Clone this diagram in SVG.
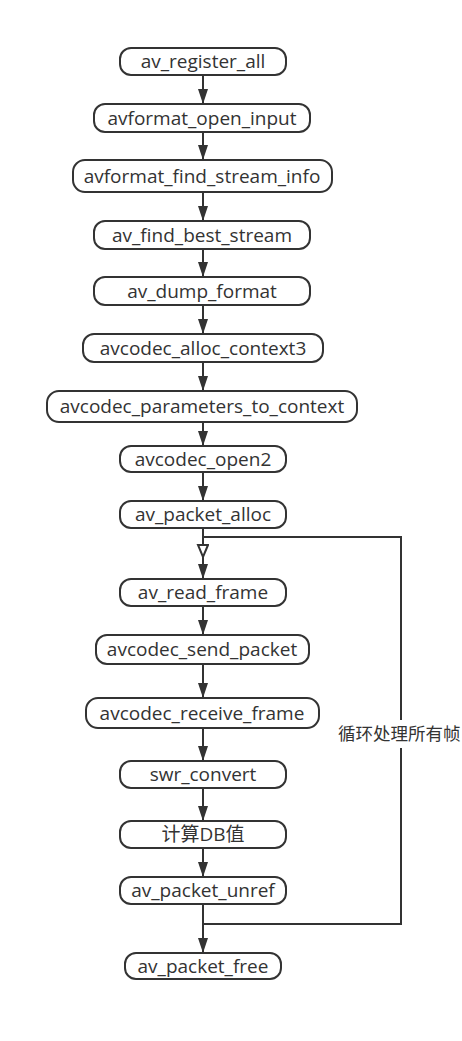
<svg xmlns="http://www.w3.org/2000/svg" width="462" height="1041" viewBox="0 0 462 1041">
<style>
.n rect{fill:#fff;stroke:#333;stroke-width:2}
.n text{font-family:"Open Sans","Noto Sans","Noto Sans CJK SC",sans-serif;font-size:19px;fill:#333;text-anchor:middle}
.e{fill:none;stroke:#333;stroke-width:2}
.lbl{font-family:"Noto Sans CJK SC","Noto Sans",sans-serif;font-size:17.5px;fill:#333}
</style>
<defs>
<marker id="a" markerUnits="userSpaceOnUse" markerWidth="16" markerHeight="12" refX="15" refY="5.5" orient="auto"><path d="M0,0.5 L15,5.5 L0,10.5 z" fill="#333"/></marker>
<marker id="o" markerUnits="userSpaceOnUse" markerWidth="16" markerHeight="14" refX="13" refY="6" orient="auto"><path d="M1,1 L13,6 L1,11 z" fill="#fff" stroke="#333" stroke-width="2"/></marker>
</defs>
<rect width="462" height="1041" fill="#fff"/>
<g id="connectors">
<line class="e" x1="203" y1="75" x2="203" y2="104" marker-end="url(#a)"/>
<line class="e" x1="203" y1="132" x2="203" y2="160" marker-end="url(#a)"/>
<line class="e" x1="203" y1="192" x2="203" y2="221" marker-end="url(#a)"/>
<line class="e" x1="203" y1="249" x2="203" y2="277" marker-end="url(#a)"/>
<line class="e" x1="203" y1="305" x2="203" y2="334" marker-end="url(#a)"/>
<line class="e" x1="203" y1="362" x2="203" y2="391" marker-end="url(#a)"/>
<line class="e" x1="203" y1="422" x2="203" y2="446" marker-end="url(#a)"/>
<line class="e" x1="203" y1="472" x2="203" y2="501" marker-end="url(#a)"/>
<line class="e" x1="203" y1="528" x2="203" y2="579" marker-end="url(#a)"/>
<line class="e" x1="203" y1="606" x2="203" y2="635" marker-end="url(#a)"/>
<line class="e" x1="203" y1="664" x2="203" y2="698" marker-end="url(#a)"/>
<line class="e" x1="203" y1="728" x2="203" y2="761" marker-end="url(#a)"/>
<line class="e" x1="203" y1="788" x2="203" y2="821" marker-end="url(#a)"/>
<line class="e" x1="203" y1="848" x2="203" y2="877" marker-end="url(#a)"/>
<line class="e" x1="203" y1="904" x2="203" y2="953" marker-end="url(#a)"/>
<path class="e" d="M203,904 V924 H401 V537 H203 V557" marker-end="url(#o)"/>
<rect x="394" y="720" width="16" height="28" fill="#fff"/>
<text class="lbl" x="338" y="740">循环处理所有帧</text>
</g>
<g id="n1" class="n"><rect x="120" y="48" width="166" height="27" rx="11"/><text x="203" y="68">av_register_all</text></g>
<g id="n2" class="n"><rect x="94" y="104" width="216" height="28" rx="11"/><text x="202" y="124.5">avformat_open_input</text></g>
<g id="n3" class="n"><rect x="73" y="160" width="259" height="32" rx="12"/><text x="202" y="182.5">avformat_find_stream_info</text></g>
<g id="n4" class="n"><rect x="94" y="221" width="216" height="28" rx="11"/><text x="202" y="241.5">av_find_best_stream</text></g>
<g id="n5" class="n"><rect x="94" y="277" width="216" height="28" rx="11"/><text x="202" y="297.5">av_dump_format</text></g>
<g id="n6" class="n"><rect x="83" y="334" width="240" height="28" rx="11"/><text x="203" y="354.5">avcodec_alloc_context3</text></g>
<g id="n7" class="n"><rect x="47" y="391" width="310" height="31" rx="12"/><text x="202" y="413">avcodec_parameters_to_context</text></g>
<g id="n8" class="n"><rect x="120" y="446" width="166" height="26" rx="11"/><text x="203" y="465.5">avcodec_open2</text></g>
<g id="n9" class="n"><rect x="120" y="501" width="166" height="27" rx="11"/><text x="203" y="521">av_packet_alloc</text></g>
<g id="n10" class="n"><rect x="120" y="579" width="166" height="27" rx="11"/><text x="203" y="599">av_read_frame</text></g>
<g id="n11" class="n"><rect x="96" y="635" width="213" height="29" rx="11"/><text x="202" y="656">avcodec_send_packet</text></g>
<g id="n12" class="n"><rect x="86" y="698" width="233" height="30" rx="12"/><text x="202" y="719.5">avcodec_receive_frame</text></g>
<g id="n13" class="n"><rect x="120" y="761" width="166" height="27" rx="11"/><text x="203" y="781">swr_convert</text></g>
<g id="n14" class="n"><rect x="120" y="821" width="166" height="27" rx="11"/><text x="203" y="841">计算DB值</text></g>
<g id="n15" class="n"><rect x="120" y="877" width="166" height="27" rx="11"/><text x="203" y="897">av_packet_unref</text></g>
<g id="n16" class="n"><rect x="125" y="953" width="156" height="26" rx="11"/><text x="203" y="972.5">av_packet_free</text></g>
</svg>
